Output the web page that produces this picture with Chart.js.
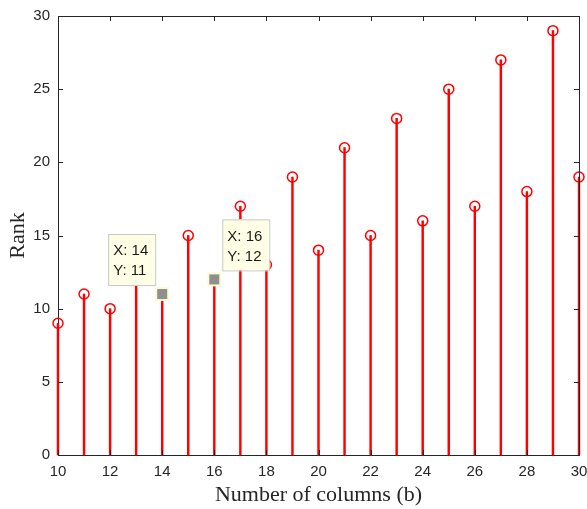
<!DOCTYPE html>
<html>
<head>
<meta charset="utf-8">
<script src="https://cdn.jsdelivr.net/npm/chart.js@4/dist/chart.umd.min.js"></script>
<style>
  html, body { margin: 0; padding: 0; background: #fff; }
  #wrap { width: 587px; height: 509px; }
</style>
</head>
<body>
<div id="wrap"><canvas id="rankChart" width="587" height="509"></canvas></div>
<script>
// number of columns b and the resulting rank
const columns = [10, 11, 12, 13, 14, 15, 16, 17, 18, 19, 20, 21, 22, 23, 24, 25, 26, 27, 28, 29, 30];
const ranks   = [9, 11, 10, 13, 11, 15, 12, 17, 13, 19, 14, 21, 15, 23, 16, 25, 17, 27, 18, 29, 19];

// data tips pinned on two of the stems
const tipX = [14, 16];
const tipY = [11, 12];
const tipSide = ['left', 'right'];

const xTicks = [10, 12, 14, 16, 18, 20, 22, 24, 26, 28, 30];
const yTicks = [0, 5, 10, 15, 20, 25, 30];

const stemPoints = columns.map((c, i) => ({ x: c, y: ranks[i] }));

const tickFont = { family: "'Liberation Sans', Arial, sans-serif", size: 15 };
const titleFont = { family: "'Liberation Serif', 'Times New Roman', serif", size: 22 };

// box on top/right plus inward tick marks, like a matlab axes
const axesBox = {
  id: 'axesBox',
  afterDatasetsDraw(chart) {
    const { ctx, chartArea: a, scales } = chart;
    ctx.save();
    ctx.strokeStyle = '#262626';
    ctx.lineWidth = 1;
    ctx.beginPath();
    ctx.moveTo(a.left + 0.5, a.top + 0.5);
    ctx.lineTo(a.right + 0.5, a.top + 0.5);
    ctx.lineTo(a.right + 0.5, a.bottom);
    ctx.stroke();
    ctx.beginPath();
    xTicks.forEach(v => {
      const px = Math.round(scales.x.getPixelForValue(v)) + 0.5;
      ctx.moveTo(px, a.bottom); ctx.lineTo(px, a.bottom - 5);
      ctx.moveTo(px, a.top); ctx.lineTo(px, a.top + 5);
    });
    yTicks.forEach(v => {
      const py = Math.round(scales.y.getPixelForValue(v)) + 0.5;
      ctx.moveTo(a.left, py); ctx.lineTo(a.left + 5, py);
      ctx.moveTo(a.right, py); ctx.lineTo(a.right - 5, py);
    });
    ctx.stroke();
    ctx.restore();
  }
};

// data tip markers and their label boxes
const dataTips = {
  id: 'dataTips',
  afterDraw(chart) {
    const { ctx, scales } = chart;
    ctx.save();
    tipX.forEach((tx, i) => {
      const px = scales.x.getPixelForValue(tx);
      const py = scales.y.getPixelForValue(tipY[i]);
      ctx.fillStyle = '#8f8f8f';
      ctx.strokeStyle = '#fbfbd0';
      ctx.lineWidth = 2;
      ctx.fillRect(px - 6, py - 6, 12, 12);
      ctx.strokeRect(px - 6, py - 6, 12, 12);

      const w = 47, h = 51;
      const bx = tipSide[i] === 'left' ? px - 7 - w : px + 8;
      const by = py - 9 - h;
      ctx.fillStyle = '#ffffe6';
      ctx.fillRect(bx, by, w, h);
      ctx.strokeStyle = '#c8c8c8';
      ctx.lineWidth = 1;
      ctx.strokeRect(bx + 0.5, by + 0.5, w, h);
      ctx.fillStyle = '#1a1a1a';
      ctx.font = "15px 'Liberation Sans', Arial, sans-serif";
      ctx.textBaseline = 'middle';
      ctx.textAlign = 'left';
      ctx.fillText('X: ' + tx, bx + 5, by + 17);
      ctx.fillText('Y: ' + tipY[i], bx + 5, by + 37);
    });
    ctx.restore();
  }
};

new Chart(document.getElementById('rankChart'), {
  type: 'bar',
  data: {
    datasets: [
      {
        type: 'scatter',
        data: stemPoints,
        pointStyle: 'circle',
        pointRadius: 5,
        pointHoverRadius: 5,
        pointBorderWidth: 1.5,
        pointBorderColor: '#ff0000',
        pointBackgroundColor: 'rgba(0,0,0,0)',
        showLine: false,
        clip: false,
        order: 0
      },
      {
        type: 'bar',
        data: stemPoints,
        backgroundColor: '#ff0000',
        barThickness: 1.8,
        clip: false,
        order: 1
      }
    ]
  },
  options: {
    responsive: false,
    animation: false,
    layout: { padding: { top: 16, right: 8, left: 0, bottom: 0 } },
    plugins: { legend: { display: false }, tooltip: { enabled: false } },
    scales: {
      x: {
        type: 'linear',
        min: 10, max: 30,
        offset: false,
        afterFit(s) { s.height = 54; s.paddingLeft = 0; s.paddingRight = 0; },
        afterBuildTicks(s) { s.ticks = xTicks.map(v => ({ value: v })); },
        grid: { display: false, drawTicks: false },
        border: { display: true, color: '#262626', width: 1 },
        ticks: { font: tickFont, color: '#262626', padding: 8, maxRotation: 0, autoSkip: false },
        title: { display: true, text: 'Number of columns (b)', font: titleFont, color: '#262626', padding: { top: 0, bottom: 1 } }
      },
      y: {
        min: 0, max: 30,
        afterFit(s) { s.width = 58; s.paddingTop = 0; s.paddingBottom = 0; },
        afterBuildTicks(s) { s.ticks = yTicks.map(v => ({ value: v })); },
        grid: { display: false, drawTicks: false },
        border: { display: true, color: '#262626', width: 1 },
        ticks: { font: tickFont, color: '#262626', padding: 8 },
        title: { display: true, text: 'Rank', font: titleFont, color: '#262626', padding: { top: 5, bottom: 0 } }
      }
    }
  },
  plugins: [axesBox, dataTips]
});
</script>
</body>
</html>
